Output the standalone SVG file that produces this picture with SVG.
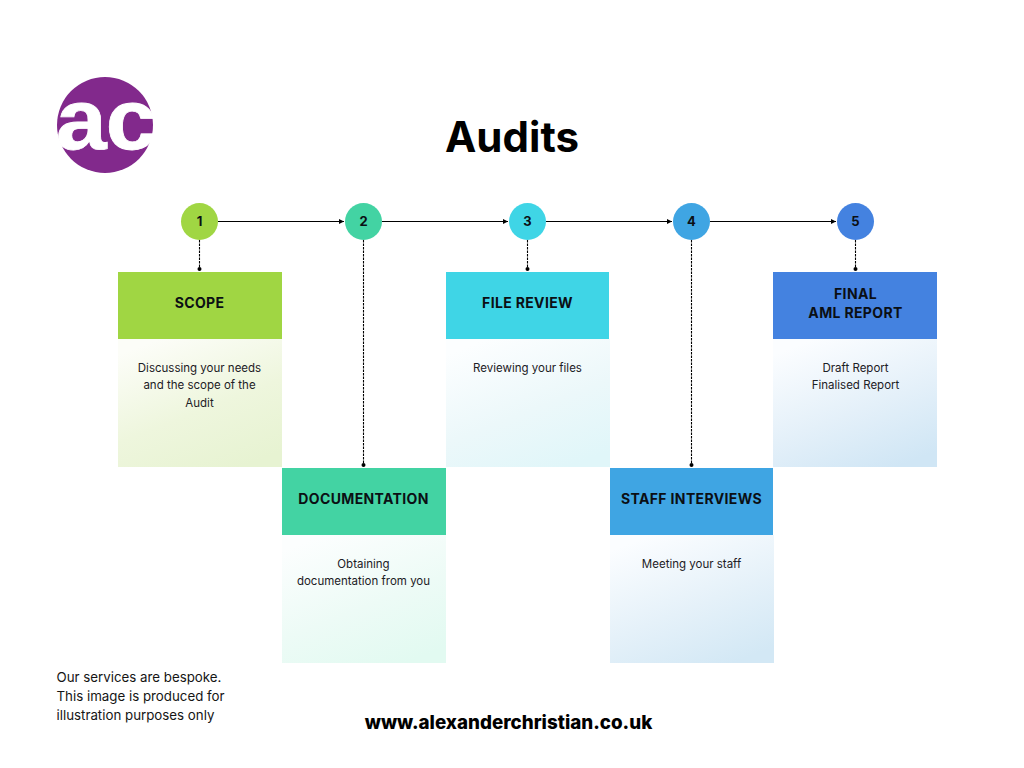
<svg xmlns="http://www.w3.org/2000/svg" width="1024" height="768" viewBox="0 0 1024 768">
<style>
.t{font-family:"Inter","Liberation Sans",sans-serif;fill:#0b0f14}
.h{font-size:14px;font-weight:700;letter-spacing:.35px;text-anchor:middle}
.n{font-size:13px;font-weight:700;text-anchor:middle}
.b{font-size:11.5px;font-weight:400;text-anchor:middle;fill:#1c2025}
.p{font-family:"Inter","Liberation Sans",sans-serif;font-size:13.300px;fill:#151515}
.s{stroke:#000;stroke-width:1;fill:none}
.d{stroke:#000;stroke-width:1.100;stroke-dasharray:2.500 1;fill:none}
</style>
<defs>
<marker id="a" markerUnits="userSpaceOnUse" markerWidth="6" markerHeight="6" refX="5" refY="3" orient="auto"><path d="M0 .5L5 3L0 5.500Z" fill="#000"/></marker>
<marker id="o" markerUnits="userSpaceOnUse" markerWidth="5" markerHeight="5" refX="2.500" refY="2.500"><circle cx="2.500" cy="2.500" r="2" fill="#000"/></marker>
<linearGradient id="g1" x1=".25" y1="0" x2=".75" y2="1"><stop offset="0" stop-color="#fcfdf8"/><stop offset=".55" stop-color="#eef6dd"/><stop offset="1" stop-color="#e7f3d2"/></linearGradient>
<linearGradient id="g2" x1=".25" y1="0" x2=".75" y2="1"><stop offset="0" stop-color="#fcfefe"/><stop offset=".55" stop-color="#edfbf6"/><stop offset="1" stop-color="#e2faf1"/></linearGradient>
<linearGradient id="g3" x1=".25" y1="0" x2=".75" y2="1"><stop offset="0" stop-color="#fcfeff"/><stop offset=".55" stop-color="#ecf8fa"/><stop offset="1" stop-color="#e0f6f9"/></linearGradient>
<linearGradient id="g4" x1=".25" y1="0" x2=".75" y2="1"><stop offset="0" stop-color="#fbfdff"/><stop offset=".55" stop-color="#e5f1f9"/><stop offset="1" stop-color="#d3e8f5"/></linearGradient>
<linearGradient id="g5" x1=".25" y1="0" x2=".75" y2="1"><stop offset="0" stop-color="#fbfdff"/><stop offset=".55" stop-color="#e4f0f9"/><stop offset="1" stop-color="#d0e6f5"/></linearGradient>
</defs>
<rect width="1024" height="768" fill="#fff"/>
<g id="logo"><circle cx="105" cy="125" r="48" fill="#82298c"/><text transform="translate(56 149) scale(1.060 1)" font-family="Liberation Sans,sans-serif" font-size="86" font-weight="700" fill="#fff" stroke="#fff" stroke-width=".8" letter-spacing="-1">ac</text></g>
<text id="title" x="512" y="152" text-anchor="middle" font-family="Inter,sans-serif" font-size="42" font-weight="700" fill="#000">Audits</text>
<g id="connectors">
<path class="s" marker-end="url(#a)" d="M218 221.500H344"/>
<path class="s" marker-end="url(#a)" d="M382 221.500H508"/>
<path class="s" marker-end="url(#a)" d="M546 221.500H672"/>
<path class="s" marker-end="url(#a)" d="M710 221.500H836"/>
<path class="d" marker-end="url(#o)" d="M199.500 240V269"/>
<path class="d" marker-end="url(#o)" d="M363.500 240V465"/>
<path class="d" marker-end="url(#o)" d="M527.500 240V269"/>
<path class="d" marker-end="url(#o)" d="M691.500 240V465"/>
<path class="d" marker-end="url(#o)" d="M855.500 240V269"/>
</g>
<g id="step1"><circle cx="199.500" cy="221.500" r="18.500" fill="#a0d643"/><text class="t n" x="199.500" y="226">1</text>
<rect x="118" y="272" width="164" height="67" fill="#a0d643"/><rect x="118" y="339" width="164" height="128" fill="url(#g1)"/>
<text class="t h" x="199.500" y="308">SCOPE</text>
<text class="t b" x="199.500" y="372">Discussing your needs</text><text class="t b" x="199.500" y="389">and the scope of the</text><text class="t b" x="199.500" y="407">Audit</text></g>
<g id="step2"><circle cx="363.500" cy="221.500" r="18.500" fill="#43d3a3"/><text class="t n" x="363.500" y="226">2</text>
<rect x="282" y="468" width="164" height="67" fill="#43d3a3"/><rect x="282" y="535" width="164" height="128" fill="url(#g2)"/>
<text class="t h" x="363.500" y="504">DOCUMENTATION</text>
<text class="t b" x="363.500" y="568">Obtaining</text><text class="t b" x="363.500" y="585">documentation from you</text></g>
<g id="step3"><circle cx="527.500" cy="221.500" r="18.500" fill="#3fd5e6"/><text class="t n" x="527.500" y="226">3</text>
<rect x="446" y="272" width="163" height="67" fill="#3fd5e6"/><rect x="446" y="339" width="164" height="128" fill="url(#g3)"/>
<text class="t h" x="527.500" y="308">FILE REVIEW</text>
<text class="t b" x="527.500" y="372">Reviewing your files</text></g>
<g id="step4"><circle cx="691.500" cy="221.500" r="18.500" fill="#3fa5e3"/><text class="t n" x="691.500" y="226">4</text>
<rect x="610" y="468" width="163" height="67" fill="#3fa5e3"/><rect x="610" y="535" width="164" height="128" fill="url(#g4)"/>
<text class="t h" x="691.500" y="504">STAFF INTERVIEWS</text>
<text class="t b" x="691.500" y="568">Meeting your staff</text></g>
<g id="step5"><circle cx="855.500" cy="221.500" r="18.500" fill="#4482e0"/><text class="t n" x="855.500" y="226">5</text>
<rect x="773" y="272" width="164" height="67" fill="#4482e0"/><rect x="773" y="339" width="164" height="128" fill="url(#g5)"/>
<text class="t h" x="855.500" y="299">FINAL</text><text class="t h" x="855.500" y="318">AML REPORT</text>
<text class="t b" x="855.500" y="372">Draft Report</text><text class="t b" x="855.500" y="389">Finalised Report</text></g>
<g id="note"><text class="p" x="56.500" y="682">Our services are bespoke.</text><text class="p" x="56.500" y="701">This image is produced for</text><text class="p" x="56.500" y="720">illustration purposes only</text></g>
<text id="url" x="508.500" y="729" text-anchor="middle" font-family="Inter,sans-serif" font-size="18.800" font-weight="800" fill="#000">www.alexanderchristian.co.uk</text>
</svg>
